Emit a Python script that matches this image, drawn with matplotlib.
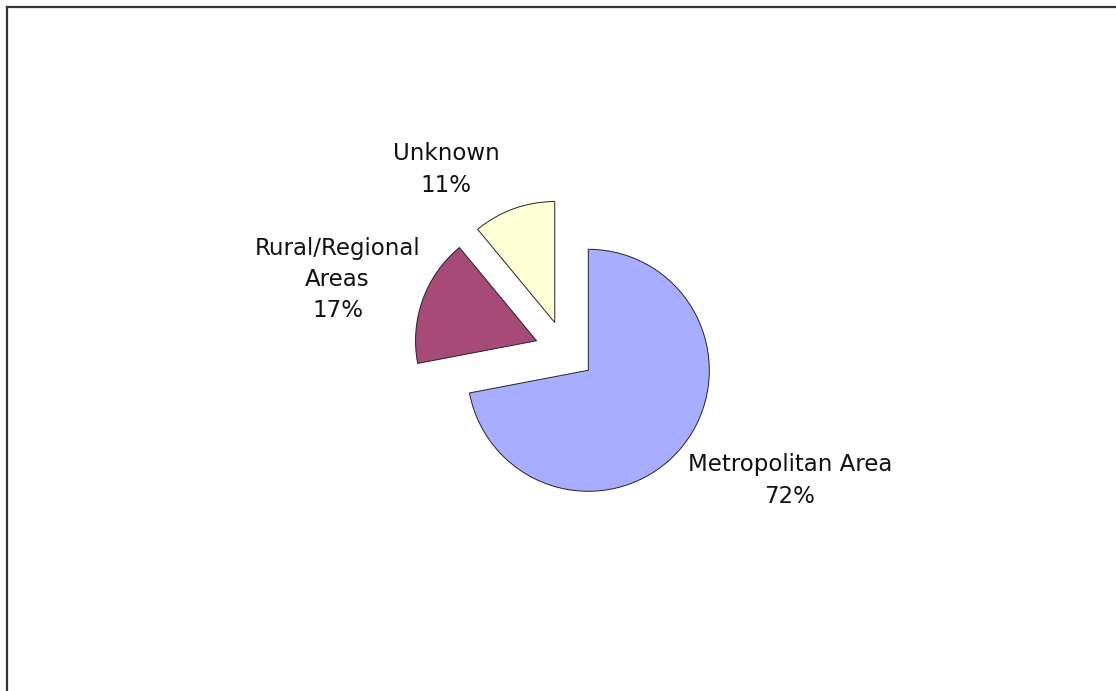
import matplotlib.pyplot as plt
from matplotlib.lines import Line2D

categories = ["Metropolitan Area", "Rural/Regional\nAreas", "Unknown"]
shares = [72, 17, 11]
colors = ["#A9ADFF", "#A84A78", "#FFFFD6"]

# label centres, in pie-radius units from the pie centre
label_pos = [(1.86, -1.07), (-1.88, 0.59), (-0.98, 1.50)]

W, H = 1116, 691
cx, cy, r = 565, 351, 121   # pie centre and radius in pixels

fig = plt.figure(figsize=(W / 100, H / 100), dpi=100)
ax = fig.add_axes([0, 0, 1, 1])

ax.pie(shares, colors=colors, startangle=90, counterclock=False,
       explode=[0.25] * len(shares), radius=1,
       wedgeprops=dict(edgecolor="#222222", linewidth=0.7))

for name, val, (lx, ly) in zip(categories, shares, label_pos):
    ax.text(lx, ly, f"{name}\n{val}%", ha="center", va="center",
            fontsize=16.5, family="DejaVu Sans", linespacing=1.45, color="#111111")

ax.set_xlim(-cx / r, (W - cx) / r)
ax.set_ylim(-(H - cy) / r, cy / r)
ax.set_aspect("auto")
ax.axis("off")

# outer frame: only the top and left edges fall inside the image
fig.add_artist(Line2D([6.5 / W, 1], [1 - 6.5 / H, 1 - 6.5 / H], color="#333333", lw=1.6))
fig.add_artist(Line2D([6.5 / W, 6.5 / W], [0, 1 - 6.5 / H], color="#333333", lw=1.6))

fig.savefig("out.png", dpi=100, facecolor="white")
